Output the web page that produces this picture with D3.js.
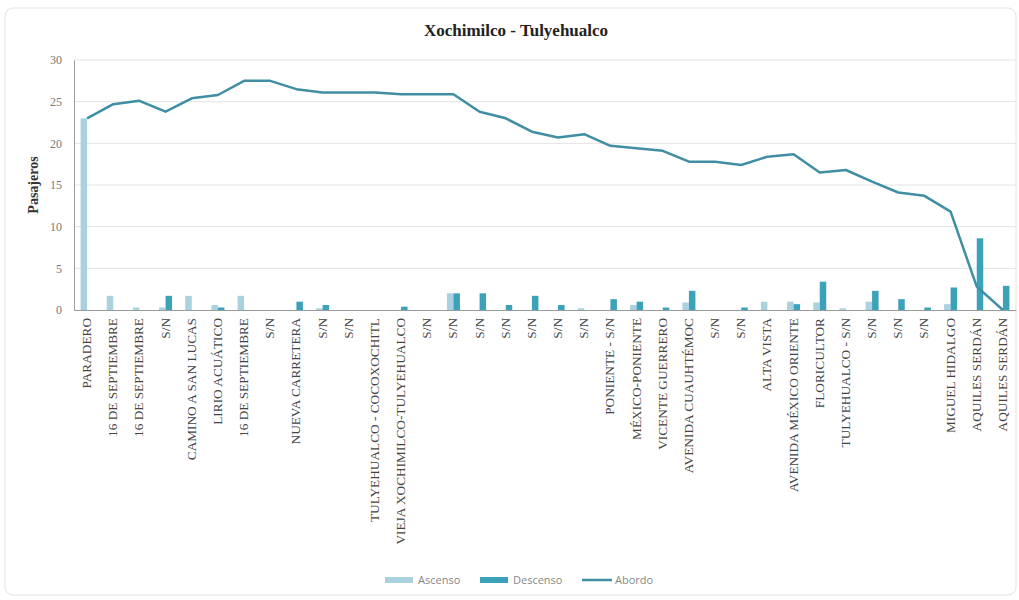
<!DOCTYPE html>
<html>
<head>
<meta charset="utf-8">
<script src="https://cdn.jsdelivr.net/npm/d3@7"></script>
<style>
  html, body { margin: 0; padding: 0; background: #fff; }
  svg { display: block; }
</style>
</head>
<body>
<svg id="chart" width="1019" height="600"></svg>
<script>
const categories = [
  "PARADERO","16 DE SEPTIEMBRE","16 DE SEPTIEMBRE","S/N","CAMINO A SAN LUCAS","LIRIO ACUÁTICO",
  "16 DE SEPTIEMBRE","S/N","NUEVA CARRETERA","S/N","S/N","TULYEHUALCO - COCOXOCHITL",
  "VIEJA XOCHIMILCO-TULYEHUALCO","S/N","S/N","S/N","S/N","S/N","S/N","S/N",
  "PONIENTE - S/N","MÉXICO-PONIENTE","VICENTE GUERRERO","AVENIDA CUAUHTÉMOC","S/N","S/N",
  "ALTA VISTA","AVENIDA MÉXICO ORIENTE","FLORICULTOR","TULYEHUALCO - S/N","S/N","S/N","S/N",
  "MIGUEL HIDALGO","AQUILES SERDÁN","AQUILES SERDÁN"
];
const ascenso = [23.0,1.7,0.3,0.3,1.7,0.6,1.7,0,0,0.2,0,0,0,0,2.0,0,0,0,0,0.2,0,0.6,0,0.9,0,0,1.0,1.0,0.9,0.2,1.0,0,0,0.7,0,0];
const descenso = [0,0,0,1.7,0,0.3,0,0,1.0,0.6,0,0,0.4,0,2.0,2.0,0.6,1.7,0.6,0,1.3,1.0,0.3,2.3,0,0.3,0,0.7,3.4,0,2.3,1.3,0.3,2.7,8.6,2.9];
const abordo = [23.0,24.7,25.1,23.8,25.4,25.8,27.5,27.5,26.5,26.1,26.1,26.1,25.9,25.9,25.9,23.8,23.0,21.4,
  20.7,21.1,19.7,19.4,19.1,17.8,17.8,17.4,18.4,18.7,16.5,16.8,15.4,14.1,13.7,11.8,2.8,0];
const yTicks = [0,5,10,15,20,25,30];
const seriesNames = ["Ascenso","Descenso","Abordo"];

const colors = { Ascenso: "#a9d1df", Descenso: "#3ba2ba", Abordo: "#3f8ea3" };

const svg = d3.select("#chart");

// card
svg.append("rect").attr("x",5).attr("y",8).attr("width",1011).attr("height",587)
  .attr("rx",8).attr("fill","#fff").attr("stroke","#e2e2e2");

const mLeft = 74, mRight = 1016, mTop = 60, mBottom = 310;

const x = d3.scaleBand().domain(d3.range(categories.length)).range([mLeft, mRight]).padding(0);
const y = d3.scaleLinear().domain([0, 30]).range([mBottom, mTop]);
const xs = d3.scaleBand().domain(["Ascenso","Descenso"]).range([x.bandwidth()/2 - 6.5, x.bandwidth()/2 + 6.5]);

// grid
svg.append("g").selectAll("line").data(yTicks.filter(d => d > 0)).join("line")
  .attr("x1", mLeft).attr("x2", mRight).attr("y1", d => y(d)).attr("y2", d => y(d))
  .attr("stroke", "#e3e3e3").attr("stroke-width", 1);

// title
svg.append("text").attr("x", 516).attr("y", 36).attr("text-anchor","middle")
  .attr("font-family","'Liberation Serif', serif").attr("font-weight","bold")
  .attr("font-size", 17).attr("fill","#222").text("Xochimilco - Tulyehualco");

// y axis
const yAxis = d3.axisLeft(y).tickValues(yTicks).tickSize(0).tickPadding(12);
const gy = svg.append("g").attr("transform", `translate(${mLeft},0)`).call(yAxis);
gy.select(".domain").attr("stroke","#9a9a9a");
gy.selectAll("text").attr("font-family","'Liberation Serif', serif").attr("font-size",12).attr("fill","#777");

svg.append("text").attr("transform","translate(38,185) rotate(-90)").attr("text-anchor","middle")
  .attr("font-family","'Liberation Serif', serif").attr("font-weight","bold").attr("font-size",14)
  .attr("fill","#333").text("Pasajeros");

// bars
const bars = svg.append("g");
categories.forEach((c, i) => {
  [["Ascenso", ascenso[i]], ["Descenso", descenso[i]]].forEach(([s, v]) => {
    if (v <= 0) return;
    bars.append("rect")
      .attr("x", x(i) + xs(s)).attr("width", xs.bandwidth())
      .attr("y", y(v)).attr("height", y(0) - y(v))
      .attr("fill", colors[s]);
  });
});

// x axis
const xAxis = d3.axisBottom(x).tickSize(0).tickPadding(0).tickFormat(i => categories[i]);
const gx = svg.append("g").attr("transform", `translate(0,${mBottom})`).call(xAxis);
gx.select(".domain").attr("stroke","#9a9a9a");
gx.selectAll("text")
  .attr("font-family","'Liberation Serif', serif").attr("font-size",13.3).attr("fill","#444")
  .attr("text-anchor","end").attr("dy",null)
  .attr("transform","translate(4,8) rotate(-90)")
  .attr("x",0).attr("y",0);

// line
const line = d3.line().x((d, i) => x(i) + x.bandwidth()/2).y(d => y(d)).curve(d3.curveLinear);
svg.append("path").datum(abordo).attr("d", line).attr("fill","none")
  .attr("stroke", colors.Abordo).attr("stroke-width", 2.5).attr("stroke-linejoin","round");

// legend
const lg = svg.append("g").attr("font-family","'Open Sans', sans-serif").attr("font-size",11).attr("fill","#888");
const legendItems = [
  { name: seriesNames[0], x: 385, type: "rect" },
  { name: seriesNames[1], x: 480, type: "rect" },
  { name: seriesNames[2], x: 582, type: "line" }
];
legendItems.forEach(it => {
  if (it.type === "rect") {
    lg.append("rect").attr("x", it.x).attr("y", 577).attr("width", 28).attr("height", 6).attr("fill", colors[it.name]);
  } else {
    lg.append("line").attr("x1", it.x).attr("x2", it.x + 30).attr("y1", 580).attr("y2", 580)
      .attr("stroke", colors[it.name]).attr("stroke-width", 2.5);
  }
  lg.append("text").attr("x", it.x + 33).attr("y", 584).text(it.name);
});
</script>
</body>
</html>
